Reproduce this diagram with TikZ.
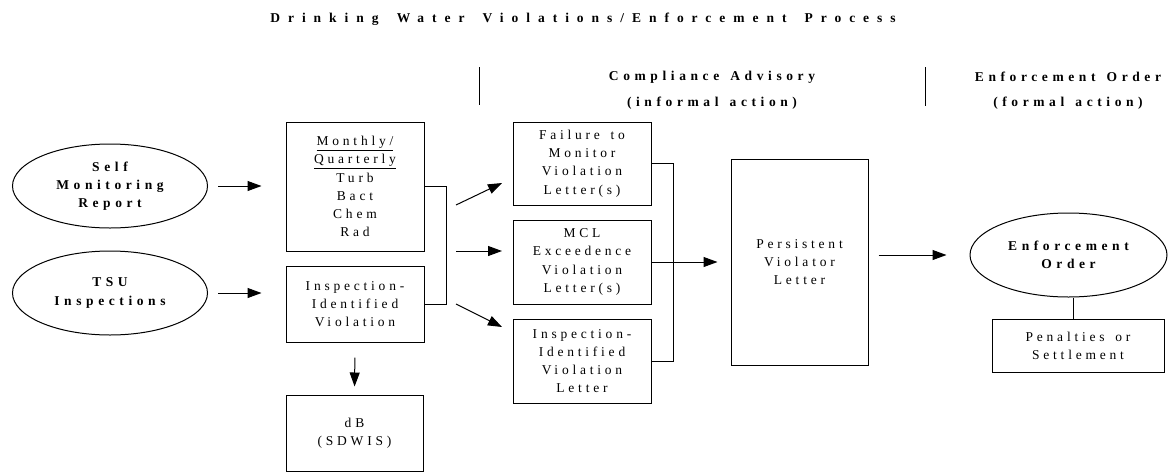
\documentclass[tikz,border=0pt]{standalone}
\usepackage{fontspec}
\usetikzlibrary{shapes.geometric,arrows.meta}
\newfontfamily\rsf[LetterSpace=28,WordSpace=1.5]{Liberation Serif}
\newfontfamily\bsf[LetterSpace=34,WordSpace=1.4]{Liberation Serif}
\newfontfamily\tsf[LetterSpace=59,WordSpace=1.6]{Liberation Serif}
\tikzset{
  txt/.style={font=\rsf\fontsize{13.5}{18.2}\selectfont, align=center, inner sep=0pt},
  btxt/.style={font=\bsf\bfseries\fontsize{13.5}{18.2}\selectfont, align=center, inner sep=0pt},
  box/.style={draw, line width=1pt, txt},
  oval/.style={draw, ellipse, line width=1pt, btxt, minimum width=195pt, minimum height=84pt},
  arr/.style={line width=1pt, -{Triangle[length=14pt,width=10pt]}},
  ln/.style={line width=1pt}
}
\begin{document}
\begin{tikzpicture}[x=1pt,y=-1pt]
\useasboundingbox (0,0) rectangle (1169,472);
\node[font=\tsf\bfseries\fontsize{13.5}{18}\selectfont] (title) at (583,19) {Drinking Water Violations/Enforcement Process};
\node[btxt] (h1) at (712,77) {Compliance Advisory};
\node[btxt] (h1b) at (712,103) {(informal action)};
\node[btxt] (h2) at (1068,77) {Enforcement Order};
\node[btxt] (h2b) at (1068,103) {(formal action)};
\draw[ln] (479,67) -- (479,105);
\draw[ln] (925,67) -- (925,106);

\node[oval] (self) at (110,186) {Self\\Monitoring\\Report};
\node[oval] (tsu) at (110,293) {TSU\\Inspections};

\node[box, minimum width=138pt, minimum height=129pt] (mq) at (355,186.5) {\underline{Monthly/}\\\underline{Quarterly}\\Turb\\Bact\\Chem\\Rad};
\node[box, minimum width=138pt, minimum height=76pt] (iv) at (355,304) {Inspection-\\Identified\\Violation};
\node[box, minimum width=137pt, minimum height=76pt] (db) at (354.5,433) {dB\\(SDWIS)};

\node[box, minimum width=138pt, minimum height=83pt] (ftm) at (582,163.5) {Failure to\\Monitor\\Violation\\Letter(s)};
\node[box, minimum width=138pt, minimum height=84pt] (mcl) at (582,262) {MCL\\Exceedence\\Violation\\Letter(s)};
\node[box, minimum width=138pt, minimum height=84pt] (iivl) at (582,361) {Inspection-\\Identified\\Violation\\Letter};

\node[box, minimum width=137pt, minimum height=206pt] (pvl) at (799.5,262) {Persistent\\Violator\\Letter};

\node[oval, minimum width=197pt] (eo) at (1068.5,255) {Enforcement\\Order};
\node[box, minimum width=172pt, minimum height=53pt] (pen) at (1078,345.5) {Penalties or\\Settlement};

\draw[arr, shorten <=10pt, shorten >=24pt] (self.east) -- (self.east -| mq.west);
\draw[arr, shorten <=10pt, shorten >=24pt] (tsu.east) -- (tsu.east -| iv.west);
\draw[ln] (mq.east) -- ++(22,0) |- (iv.east);
\draw[arr, shorten <=15pt, shorten >=8pt] (iv.south) -- (db.north);

\coordinate (a1s) at (456,205); \coordinate (a1e) at (502,183);
\coordinate (a2s) at (456,251); \coordinate (a2e) at (502,251);
\coordinate (a3s) at (456,304); \coordinate (a3e) at (502,327);
\draw[arr] (a1s) -- (a1e);
\draw[arr] (a2s) -- (a2e);
\draw[arr] (a3s) -- (a3e);

\draw[ln] (ftm.east) -- ++(22,0) |- (iivl.east);
\draw[arr, shorten >=13pt] (mcl.east) -- (mcl.east -| pvl.west);
\draw[arr, shorten <=10pt, shorten >=23pt] (pvl.east |- eo.west) -- (eo.west);
\draw[ln] ([xshift=4.5pt]eo.south) -- ([xshift=-5pt]pen.north);
\end{tikzpicture}
\end{document}
